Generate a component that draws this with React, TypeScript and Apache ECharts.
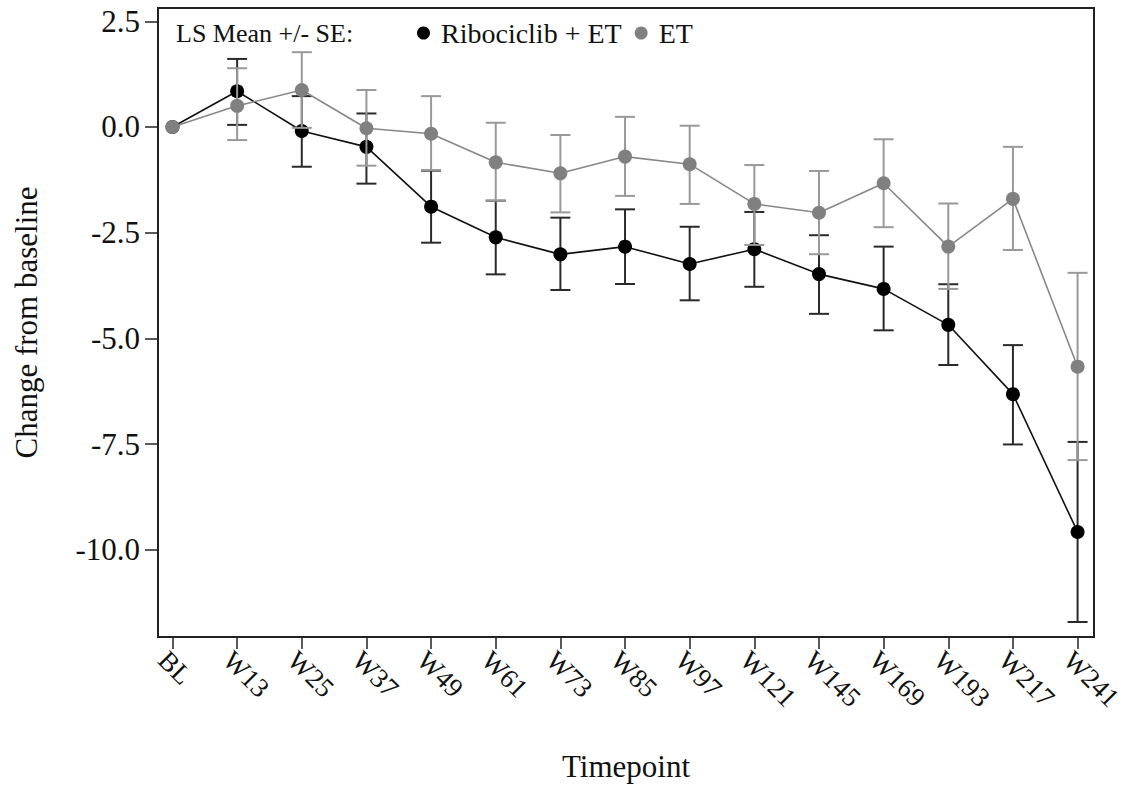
import React, { useEffect, useRef } from "react";
import * as echarts from "echarts";

const categories = ["BL", "W13", "W25", "W37", "W49", "W61", "W73", "W85", "W97", "W121", "W145", "W169", "W193", "W217", "W241"];
const yTicks = [2.5, 0, -2.5, -5, -7.5, -10];

const ribMean = [0, 0.845, -0.095, -0.47, -1.885, -2.61, -3.013, -2.831, -3.24, -2.89, -3.48, -3.83, -4.68, -6.32, -9.58];
const ribLower = [0, 0.05, -0.94, -1.34, -2.737, -3.486, -3.856, -3.714, -4.1, -3.78, -4.42, -4.81, -5.63, -7.51, -11.71];
const ribUpper = [0, 1.61, 0.73, 0.32, -1.033, -1.743, -2.145, -1.948, -2.36, -2.01, -2.56, -2.83, -3.72, -5.16, -7.45];

const etMean = [0, 0.5, 0.875, -0.03, -0.16, -0.836, -1.096, -0.7, -0.88, -1.82, -2.03, -1.33, -2.83, -1.7, -5.67];
const etLower = [0, -0.31, -0.02, -0.915, -1.02, -1.743, -2.02, -1.63, -1.82, -2.79, -3.01, -2.37, -3.83, -2.91, -7.88];
const etUpper = [0, 1.39, 1.77, 0.875, 0.73, 0.1, -0.19, 0.24, 0.03, -0.9, -1.04, -0.29, -1.81, -0.47, -3.45];

const FONT = '"Liberation Serif", "Times New Roman", serif';

function errorSeries(name: string, lower: number[], upper: number[], color: string, z: number) {
  return {
    type: "custom",
    name,
    z,
    silent: true,
    data: lower.map((lo, i) => [i, lo, upper[i]]),
    renderItem: (params: any, api: any) => {
      const x = api.value(0);
      const lo = api.value(1);
      const hi = api.value(2);
      if (lo === hi) return null;
      const pLo = api.coord([x, lo]);
      const pHi = api.coord([x, hi]);
      const half = 10;
      const style = { stroke: color, lineWidth: 2, fill: null };
      return {
        type: "group",
        children: [
          { type: "line", shape: { x1: pLo[0], y1: pLo[1], x2: pHi[0], y2: pHi[1] }, style },
          { type: "line", shape: { x1: pLo[0] - half, y1: pLo[1], x2: pLo[0] + half, y2: pLo[1] }, style },
          { type: "line", shape: { x1: pHi[0] - half, y1: pHi[1], x2: pHi[0] + half, y2: pHi[1] }, style },
        ],
      };
    },
  };
}

export default function App() {
  const ref = useRef<HTMLDivElement>(null);
  useEffect(() => {
    if (!ref.current) return;
    const chart = echarts.init(ref.current, null, { renderer: "svg" });
    chart.setOption({
      animation: false,
      backgroundColor: "#fff",
      textStyle: { fontFamily: FONT, color: "#111" },
      grid: {
        left: 158,
        right: 34,
        top: 8,
        bottom: 150,
        containLabel: false,
        outerBoundsMode: "none",
        show: true,
        borderColor: "#222",
        borderWidth: 2,
        backgroundColor: "transparent",
      },
      xAxis: {
        type: "value",
        position: "bottom",
        min: -0.224,
        max: 14.254,
        name: "Timepoint",
        nameLocation: "middle",
        nameGap: 114,
        nameTextStyle: { fontFamily: FONT, fontSize: 31, color: "#111" },
        axisLine: { show: false, onZero: false },
        splitLine: { show: false },
        axisTick: { show: true, length: 12, lineStyle: { color: "#222", width: 1.5 }, customValues: categories.map((_, i) => i) },
        axisLabel: {
          customValues: categories.map((_, i) => i),
          formatter: (v: number) => categories[Math.round(v)] ?? "",
          rotate: -45,
          align: "left",
          verticalAlign: "top",
          margin: 9,
          fontFamily: FONT,
          fontSize: 27,
          color: "#111",
        },
      },
      yAxis: {
        type: "value",
        min: -12.065,
        max: 2.815,
        name: "Change from baseline",
        nameLocation: "middle",
        nameGap: 116,
        nameTextStyle: { fontFamily: FONT, fontSize: 31, color: "#111" },
        axisLine: { show: false, onZero: false },
        splitLine: { show: false },
        axisTick: { show: true, length: 13, lineStyle: { color: "#222", width: 1.5 }, customValues: yTicks },
        axisLabel: {
          customValues: yTicks,
          formatter: (v: number) => v.toFixed(1),
          margin: 18,
          fontFamily: FONT,
          fontSize: 31,
          color: "#111",
        },
      },
      legend: {
        data: ["Ribociclib + ET", "ET"],
        left: 417,
        top: 17,
        padding: 0,
        icon: "circle",
        itemWidth: 13,
        itemHeight: 13,
        itemGap: 13,
        selectedMode: false,
        textStyle: { fontFamily: FONT, fontSize: 28, color: "#111", padding: [0, 0, 0, 6], lineHeight: 32 },
      },
      graphic: [
        {
          type: "text",
          left: 176,
          top: 18,
          style: { text: "LS Mean +/- SE:", fontFamily: FONT, fontSize: 26, fill: "#111", lineHeight: 30 },
        },
      ],
      series: [
        errorSeries("ribErr", ribLower, ribUpper, "#2a2a2a", 1),
        {
          type: "line",
          name: "Ribociclib + ET",
          z: 2,
          data: ribMean.map((v, i) => [i, v]),
          symbol: "circle",
          symbolSize: 14,
          itemStyle: { color: "#000" },
          lineStyle: { color: "#111", width: 1.6 },
        },
        errorSeries("etErr", etLower, etUpper, "#999999", 3),
        {
          type: "line",
          name: "ET",
          z: 4,
          data: etMean.map((v, i) => [i, v]),
          symbol: "circle",
          symbolSize: 14,
          itemStyle: { color: "#808080" },
          lineStyle: { color: "#888888", width: 1.6 },
        },
      ],
    });
    return () => chart.dispose();
  }, []);
  return <div ref={ref} style={{ position: "fixed", left: 0, top: 0, width: 1128, height: 787 }} />;
}
